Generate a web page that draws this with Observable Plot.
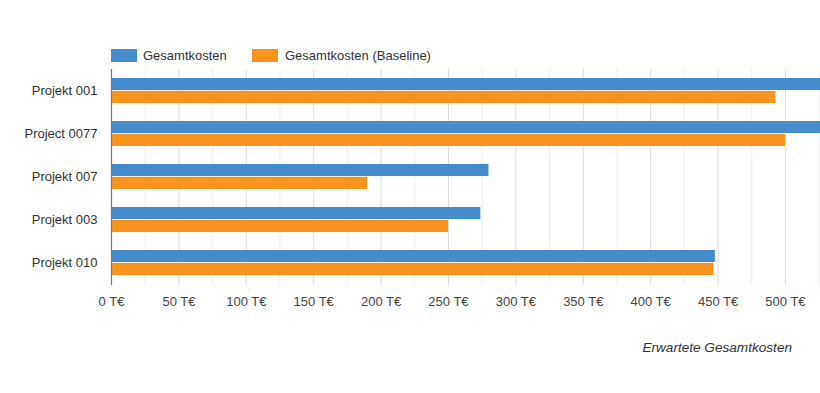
<!DOCTYPE html>
<html>
<head>
<meta charset="utf-8">
<script src="https://cdn.jsdelivr.net/npm/d3@7"></script>
<script src="https://cdn.jsdelivr.net/npm/@observablehq/plot@0.6"></script>
<style>
  html, body { margin: 0; padding: 0; background: #fff; }
  body { width: 820px; height: 393px; overflow: hidden; font-family: "Liberation Sans", Arial, sans-serif; }
  #legend { position: relative; height: 69px; font-size: 13px; color: #333; }
  .sw { position: absolute; top: 49px; width: 26px; height: 13px; box-sizing: border-box; }
  .lt { position: absolute; top: 48px; line-height: 16px; white-space: nowrap; }
  #caption { margin-top: 15px; text-align: right; padding-right: 28px; font-size: 13.6px; font-style: italic; color: #333; line-height: 16px; }
</style>
</head>
<body>
<div id="legend"></div>
<div id="chart"></div>
<div id="caption"></div>
<script>
const projects = ["Projekt 001", "Project 0077", "Projekt 007", "Projekt 003", "Projekt 010"];
const gesamtkosten = [545, 560, 280, 274, 448];
const baseline = [493, 500, 190, 250, 447];
const seriesNames = ["Gesamtkosten", "Gesamtkosten (Baseline)"];
const seriesColors = ["#458ccc", "#f7941e"];
const majorTicks = [0, 50, 100, 150, 200, 250, 300, 350, 400, 450, 500];
const minorTicks = [25, 75, 125, 175, 225, 275, 325, 375, 425, 475, 525];
const captionText = "Erwartete Gesamtkosten";

const blueData = projects.map((p, i) => ({project: p, value: gesamtkosten[i]}));
const orangeData = projects.map((p, i) => ({project: p, value: baseline[i]}));

// legend
const legend = document.getElementById("legend");
const legendPos = [[111, 143], [252, 285]];
seriesNames.forEach((name, i) => {
  const sw = document.createElement("div");
  sw.className = "sw";
  sw.style.left = legendPos[i][0] + "px";
  sw.style.background = seriesColors[i];
  legend.appendChild(sw);
  const t = document.createElement("div");
  t.className = "lt";
  t.style.left = legendPos[i][1] + "px";
  t.textContent = name;
  legend.appendChild(t);
});

const chart = Plot.plot({
  width: 820,
  height: 256,
  marginTop: 0,
  marginBottom: 40,
  marginLeft: 111,
  marginRight: 0,
  style: {fontFamily: "\"Liberation Sans\", Arial, sans-serif", fontSize: "13px", background: "#fff", color: "#333"},
  x: {domain: [0, 526], label: null},
  y: {domain: projects, paddingInner: 0.417, paddingOuter: 0.2085, label: null},
  marks: [
    Plot.ruleX(minorTicks, {stroke: "#eeeeee", strokeWidth: 1}),
    Plot.ruleX(majorTicks.filter(d => d > 0), {stroke: "#dcdcdc", strokeWidth: 1}),
    Plot.barX(blueData, {x: "value", y: "project", fill: seriesColors[0], insetBottom: 13, clip: true}),
    Plot.barX(orangeData, {x: "value", y: "project", fill: seriesColors[1], insetTop: 12.8, clip: true}),
    Plot.ruleX([0], {stroke: "#777", strokeWidth: 1.2}),
    Plot.axisX({ticks: majorTicks, tickFormat: d => d + " T€", tickSize: 0, tickPadding: 11, fill: "#444", label: null}),
    Plot.axisY({tickSize: 0, tickPadding: 14, fill: "#333", label: null})
  ]
});
document.getElementById("chart").appendChild(chart);
document.getElementById("caption").textContent = captionText;
</script>
</body>
</html>
